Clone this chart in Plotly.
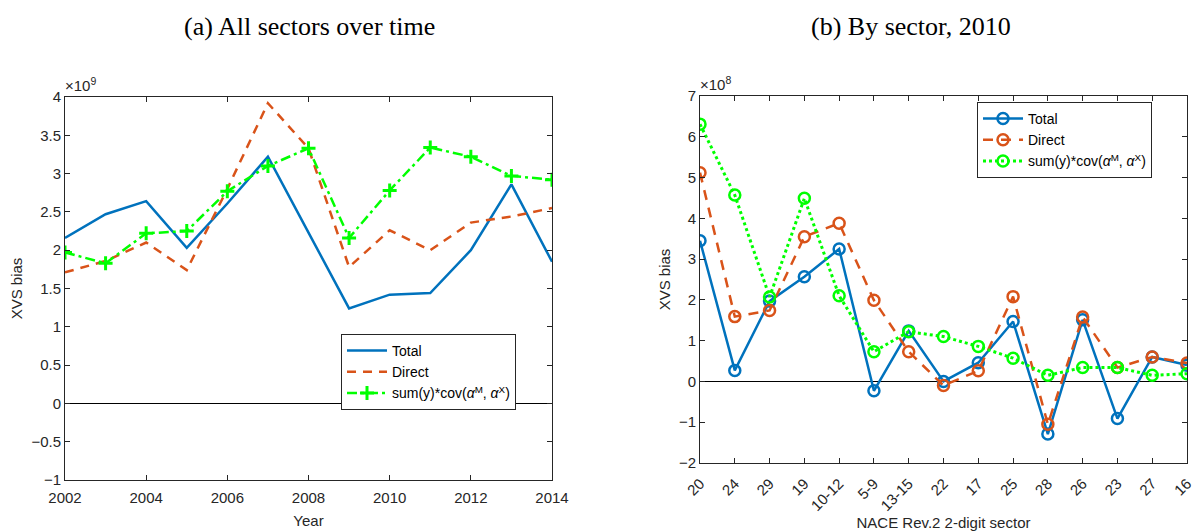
import plotly.graph_objects as go

# ---- data -----------------------------------------------------------------
years = [2002, 2003, 2004, 2005, 2006, 2007, 2008, 2009, 2010, 2011, 2012, 2013, 2014]
# XVS bias over time, in units of 1e9
total_t = [2.16, 2.47, 2.64, 2.03, 2.61, 3.22, 2.23, 1.24, 1.42, 1.44, 2.00, 2.86, 1.85]
direct_t = [1.71, 1.86, 2.10, 1.74, 2.80, 3.92, 3.33, 1.78, 2.26, 2.00, 2.36, 2.44, 2.55]
cov_t = [1.97, 1.83, 2.22, 2.25, 2.77, 3.10, 3.33, 2.16, 2.78, 3.34, 3.22, 2.97, 2.92]

sectors = ["20", "24", "29", "19", "10-12", "5-9", "13-15", "22", "17", "25",
           "28", "26", "23", "27", "16"]
# XVS bias by sector in 2010, in units of 1e8
total_s = [3.45, 0.27, 1.97, 2.57, 3.25, -0.23, 1.24, 0.00, 0.46, 1.47,
           -1.29, 1.51, -0.91, 0.60, 0.40]
direct_s = [5.12, 1.59, 1.74, 3.55, 3.88, 1.99, 0.73, -0.10, 0.26, 2.08,
            -1.05, 1.58, 0.34, 0.60, 0.45]
cov_s = [6.31, 4.57, 2.07, 4.49, 2.10, 0.73, 1.22, 1.10, 0.86, 0.57,
         0.15, 0.34, 0.34, 0.15, 0.19]

BLUE = "#0072BD"
ORANGE = "#D95319"
GREEN = "#00FF00"
INK = "#262626"
SANS = "Liberation Sans, Arial"
SERIF = "Liberation Serif, Times New Roman"
COV_NAME = "sum(y)*cov(<i>α</i><sup>M</sup>, <i>α</i><sup>X</sup>)"

W, H = 1197, 531

def px_x(p):
    return p / W

def px_y(p):
    return 1 - p / H

fig = go.Figure()

# (a) all sectors over time
fig.add_trace(go.Scatter(x=years, y=total_t, name="Total", mode="lines",
                         line=dict(color=BLUE, width=2.5),
                         xaxis="x", yaxis="y", legend="legend"))
fig.add_trace(go.Scatter(x=years, y=direct_t, name="Direct", mode="lines",
                         line=dict(color=ORANGE, width=2.5, dash="9px,7px"),
                         xaxis="x", yaxis="y", legend="legend"))
fig.add_trace(go.Scatter(x=years, y=cov_t, name=COV_NAME, mode="lines+markers",
                         line=dict(color=GREEN, width=2.5, dash="10px,4px,3px,4px"),
                         marker=dict(symbol="cross-thin", size=10,
                                     line=dict(color=GREEN, width=3)),
                         xaxis="x", yaxis="y", legend="legend"))

# (b) by sector, 2010
def open_marker(c):
    return dict(symbol="circle-open", size=11, color=c, line=dict(color=c, width=2.5))

fig.add_trace(go.Scatter(x=sectors, y=total_s, name="Total", mode="lines+markers",
                         line=dict(color=BLUE, width=2.5), marker=open_marker(BLUE),
                         xaxis="x2", yaxis="y2", legend="legend2"))
fig.add_trace(go.Scatter(x=sectors, y=direct_s, name="Direct", mode="lines+markers",
                         line=dict(color=ORANGE, width=2.5, dash="10px,8px"),
                         marker=open_marker(ORANGE),
                         xaxis="x2", yaxis="y2", legend="legend2"))
fig.add_trace(go.Scatter(x=sectors, y=cov_s, name=COV_NAME, mode="lines+markers",
                         line=dict(color=GREEN, width=3, dash="dot"),
                         marker=open_marker(GREEN),
                         xaxis="x2", yaxis="y2", legend="legend2"))

axis_common = dict(showline=True, linecolor=INK, linewidth=1, mirror="ticks",
                   ticks="inside", ticklen=5, tickcolor=INK, showgrid=False,
                   automargin=False,
                   tickfont=dict(family=SANS, size=15, color=INK),
                   title_font=dict(family=SANS, size=15, color=INK))

legend_common = dict(xanchor="left", yanchor="top", bgcolor="white",
                     bordercolor=INK, borderwidth=1,
                     font=dict(family=SANS, size=14, color="black"),
                     tracegroupgap=0, itemwidth=40)

fig.update_layout(
    width=W, height=H,
    margin=dict(l=0, r=0, t=0, b=0),
    paper_bgcolor="white", plot_bgcolor="white",
    xaxis=dict(domain=[px_x(65), px_x(552)], range=[2002, 2014],
               tickvals=list(range(2002, 2015, 2)), anchor="y",
               ticklabelstandoff=4,
               title=dict(text="Year", standoff=10), **axis_common),
    yaxis=dict(domain=[px_y(480), px_y(97)], range=[-1, 4], dtick=0.5,
               anchor="x", zeroline=True, zerolinecolor="black", zerolinewidth=1,
               title=dict(text="XVS bias", standoff=5), **axis_common),
    xaxis2=dict(domain=[px_x(700), px_x(1187)], range=[0, len(sectors) - 1],
                type="category", tickangle=-45, anchor="y2",
                ticklabelstandoff=5,
                title=dict(text="NACE Rev.2 2-digit sector", standoff=5), **axis_common),
    yaxis2=dict(domain=[px_y(463), px_y(96)], range=[-2, 7], dtick=1,
                anchor="x2", zeroline=True, zerolinecolor="black", zerolinewidth=1,
                title=dict(text="XVS bias", standoff=4), **axis_common),
    legend=dict(x=px_x(341), y=px_y(334), **legend_common),
    legend2=dict(x=px_x(977), y=px_y(102), **legend_common),
    showlegend=True,
    annotations=[
        dict(text="(a) All sectors over time", x=px_x(309), y=px_y(27),
             xref="paper", yref="paper", showarrow=False, xanchor="center",
             yanchor="middle", font=dict(family=SERIF, size=26, color="black")),
        dict(text="(b) By sector, 2010", x=px_x(911), y=px_y(27),
             xref="paper", yref="paper", showarrow=False, xanchor="center",
             yanchor="middle", font=dict(family=SERIF, size=26, color="black")),
        dict(text="×10<sup>9</sup>", x=px_x(63), y=px_y(96),
             xref="paper", yref="paper", showarrow=False, xanchor="left",
             yanchor="bottom", font=dict(family=SANS, size=15, color=INK)),
        dict(text="×10<sup>8</sup>", x=px_x(698), y=px_y(95),
             xref="paper", yref="paper", showarrow=False, xanchor="left",
             yanchor="bottom", font=dict(family=SANS, size=15, color=INK)),
    ],
)

fig.write_html("out.html")
